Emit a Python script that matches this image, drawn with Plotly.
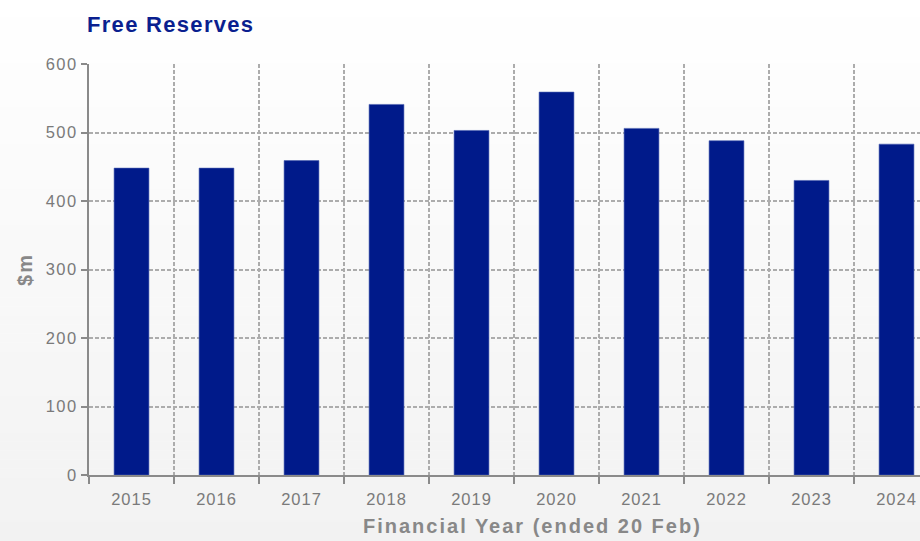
import plotly.graph_objects as go

years = ["2015", "2016", "2017", "2018", "2019", "2020", "2021", "2022", "2023", "2024"]
free_reserves = [448, 448, 459, 541, 503, 559, 506, 488, 430, 483]
y_ticks = [0, 100, 200, 300, 400, 500, 600]

W, H = 920, 541
L, R, T, B = 89, 0, 64, 66
pw, ph = W - L - R, H - T - B
FONT = "Liberation Sans, Arial, Helvetica, sans-serif"


def px_x(x):
    return (x - L) / pw


def px_y(y):
    return (H - B - y) / ph


def spaced(s, sp):
    return '<span style="letter-spacing:%spx">%s</span>' % (sp, s)


fig = go.Figure()
fig.add_trace(go.Bar(
    x=years, y=free_reserves,
    marker=dict(color="#001A8A", line=dict(color="#4a5fb0", width=0.6)),
    width=0.41,
    hoverinfo="x+y",
))

# background gradient bands (white at top -> light grey at bottom)
shapes = []
n = 60
top_c = (255, 255, 255)
bot_c = (242, 242, 242)
for i in range(n):
    y0 = i * H / n
    y1 = (i + 1) * H / n
    t = (i + 0.5) / n
    c = tuple(round(top_c[k] + (bot_c[k] - top_c[k]) * t) for k in range(3))
    shapes.append(dict(
        type="rect", xref="paper", yref="paper", layer="below",
        x0=px_x(0), x1=px_x(W), y0=px_y(y1), y1=px_y(y0) + 0.001,
        fillcolor="rgb(%d,%d,%d)" % c, line=dict(width=0),
    ))

axis_col = "#8a8a8a"
grid_col = "#acacac"
tick_font = dict(family=FONT, size=16.5, color="#7a7a7a")

fig.update_layout(
    width=W, height=H,
    margin=dict(l=L, r=R, t=T, b=B, pad=0),
    paper_bgcolor="white",
    plot_bgcolor="rgba(0,0,0,0)",
    showlegend=False,
    shapes=shapes,
    title=dict(
        text="<b>" + spaced("Free Reserves", 1.3) + "</b>",
        x=87 / W, xanchor="left", xref="container",
        y=1 - 24 / H, yanchor="middle", yref="container",
        font=dict(family=FONT, size=22, color="#0A1F8F"),
    ),
    xaxis=dict(
        type="category",
        range=[-0.5, -0.5 + pw / 85.0],
        tickson="boundaries",
        tickmode="array", tickvals=years,
        ticktext=[spaced(y, 1.0) for y in years],
        showgrid=True, gridcolor=grid_col, griddash="4px,2px", gridwidth=1.5,
        showline=True, linecolor=axis_col, linewidth=2,
        ticks="outside", ticklen=7, tickcolor=axis_col, tickwidth=2,
        tickfont=tick_font, ticklabelstandoff=8,
        fixedrange=True,
    ),
    yaxis=dict(
        range=[0, 600],
        tickmode="array", tickvals=y_ticks,
        ticktext=[spaced(str(v), 1.5) for v in y_ticks],
        showgrid=True, gridcolor=grid_col, griddash="4px,2px", gridwidth=1.5,
        showline=True, linecolor=axis_col, linewidth=2,
        ticks="outside", ticklen=6, tickcolor=axis_col, tickwidth=2,
        tickfont=tick_font,
        zeroline=False,
        title=dict(text="<b>" + spaced("$m", 2) + "</b>", standoff=8,
                   font=dict(family=FONT, size=20, color="#888888")),
        fixedrange=True,
    ),
    annotations=[dict(
        text="<b>" + spaced("Financial Year (ended 20 Feb)", 2.0) + "</b>",
        xref="paper", yref="paper",
        x=px_x(532), y=px_y(526),
        xanchor="center", yanchor="middle", showarrow=False,
        font=dict(family=FONT, size=20, color="#888888"),
    )],
)

fig.write_html("out.html", config={"displayModeBar": False},
               post_script="document.body.style.margin='0';")
